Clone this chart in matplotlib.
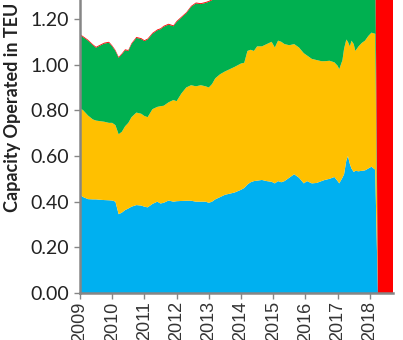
# Stacked capacity chart, operated TEU share by year
import numpy as np
import matplotlib
matplotlib.use("Agg")
import matplotlib.pyplot as plt

# time axis (decimal years) and the top edge of each stacked band
years = [2009.00, 2009.10, 2009.25, 2009.40, 2009.50, 2009.65, 2009.75, 2009.90,
         2010.00, 2010.10, 2010.20, 2010.30, 2010.40, 2010.50, 2010.60, 2010.75,
         2010.90, 2011.00, 2011.10, 2011.25, 2011.40, 2011.50, 2011.60, 2011.75,
         2011.90, 2012.00, 2012.15, 2012.30, 2012.45, 2012.60, 2012.75, 2012.90,
         2013.00, 2013.10, 2013.20, 2013.35, 2013.50, 2013.65, 2013.80, 2014.00,
         2014.10, 2014.20, 2014.30, 2014.40, 2014.50, 2014.65, 2014.80, 2014.95,
         2015.05, 2015.15, 2015.25, 2015.35, 2015.50, 2015.65, 2015.80, 2015.95,
         2016.05, 2016.20, 2016.35, 2016.50, 2016.60, 2016.75, 2016.90, 2017.00,
         2017.05, 2017.15, 2017.20, 2017.27, 2017.32, 2017.38, 2017.43, 2017.50,
         2017.55, 2017.65, 2017.75, 2017.85, 2017.95, 2018.05, 2018.167, 2018.25,
         2018.75]

blue_top = [.430, .420, .411, .410, .410, .408, .407, .406,
            .405, .400, .345, .352, .363, .370, .378, .385,
            .383, .378, .375, .390, .400, .392, .395, .405,
            .400, .402, .403, .404, .404, .400, .400, .400,
            .395, .400, .410, .420, .430, .435, .440, .452,
            .460, .475, .485, .490, .492, .495, .490, .487,
            .480, .490, .485, .490, .505, .520, .505, .480,
            .490, .480, .482, .490, .495, .500, .508, .490,
            .480, .505, .520, .580, .600, .565, .545, .530,
            .535, .533, .535, .537, .545, .553, .540, 0.0,
            0.0]

yellow_top = [.810, .800, .777, .760, .755, .752, .750, .745,
              .745, .735, .695, .706, .730, .745, .770, .790,
              .785, .775, .770, .805, .815, .818, .820, .835,
              .845, .840, .874, .900, .910, .905, .910, .905,
              .900, .915, .940, .958, .970, .980, .990, 1.005,
              1.008, 1.060, 1.065, 1.060, 1.080, 1.080, 1.090, 1.100,
              1.075, 1.105, 1.100, 1.090, 1.085, 1.090, 1.075, 1.050,
              1.040, 1.025, 1.020, 1.015, 1.015, 1.017, 1.010, .995,
              .980, 1.020, 1.070, 1.110, 1.100, 1.080, 1.105, 1.090,
              1.060, 1.080, 1.095, 1.105, 1.125, 1.140, 1.135, 0.0,
              0.0]

green_top = [1.130, 1.120, 1.105, 1.085, 1.074, 1.085, 1.092, 1.096,
             1.080, 1.060, 1.030, 1.045, 1.063, 1.060, 1.090, 1.117,
             1.112, 1.103, 1.110, 1.135, 1.150, 1.155, 1.166, 1.175,
             1.168, 1.187, 1.206, 1.225, 1.253, 1.268, 1.265, 1.270,
             1.275, 1.282, 1.300, 1.320, 1.330, 1.340, 1.350, 1.360,
             1.370, 1.390, 1.400, 1.400, 1.410, 1.420, 1.420, 1.430,
             1.420, 1.440, 1.440, 1.440, 1.450, 1.450, 1.450, 1.440,
             1.440, 1.430, 1.430, 1.440, 1.440, 1.450, 1.450, 1.440,
             1.430, 1.450, 1.470, 1.490, 1.490, 1.480, 1.490, 1.490,
             1.480, 1.490, 1.500, 1.500, 1.510, 1.520, 1.520, 0.0,
             0.0]

# last band: a thin sliver on top, then everything after March 2018
red_vals = [0.004] * 79 + [1.6, 1.6]

year_ticks = list(range(2009, 2019))
y_ticks = [0.0, 0.2, 0.4, 0.6, 0.8, 1.0, 1.2]

colors = ["#00B0F0", "#FFC000", "#00B050", "#FF0000"]


def main():
    x = np.array(years)
    b = np.array(blue_top)
    yl = np.array(yellow_top)
    g = np.array(green_top)
    layers = [b, yl - b, g - yl, np.array(red_vals)]

    fig = plt.figure(figsize=(4.03, 3.40), dpi=100)
    ax = fig.add_axes([80 / 403, 47 / 340, 312.7 / 403, 293 / 340])

    ax.stackplot(x, layers, colors=colors, linewidth=0)

    ax.set_xlim(2009, 2018.71)
    ax.set_ylim(0, 1.283)

    ax.set_yticks(y_ticks)
    ax.set_yticklabels(["%.2f" % v for v in y_ticks],
                       fontfamily="Lato", fontsize=14, color="#222222")
    ax.set_xticks(year_ticks)
    ax.set_xticklabels([str(v) for v in year_ticks], rotation=90,
                       fontfamily="Liberation Sans", fontsize=13, color="#333333")

    for side in ["top", "right"]:
        ax.spines[side].set_visible(False)
    for side in ["left", "bottom"]:
        ax.spines[side].set_color("#868686")
        ax.spines[side].set_linewidth(1.8)
    ax.tick_params(axis="both", direction="out", length=4, width=1,
                   color="#868686")
    ax.tick_params(axis="y", pad=4)
    ax.tick_params(axis="x", pad=2)

    ax.set_ylabel("Capacity Operated in TEU", fontfamily="Lato",
                  fontweight="bold", fontsize=13, color="#222222")
    ax.yaxis.set_label_coords(-0.19, 0.635)

    fig.savefig("out.png", dpi=100)
    plt.close(fig)


if __name__ == "__main__":
    main()
